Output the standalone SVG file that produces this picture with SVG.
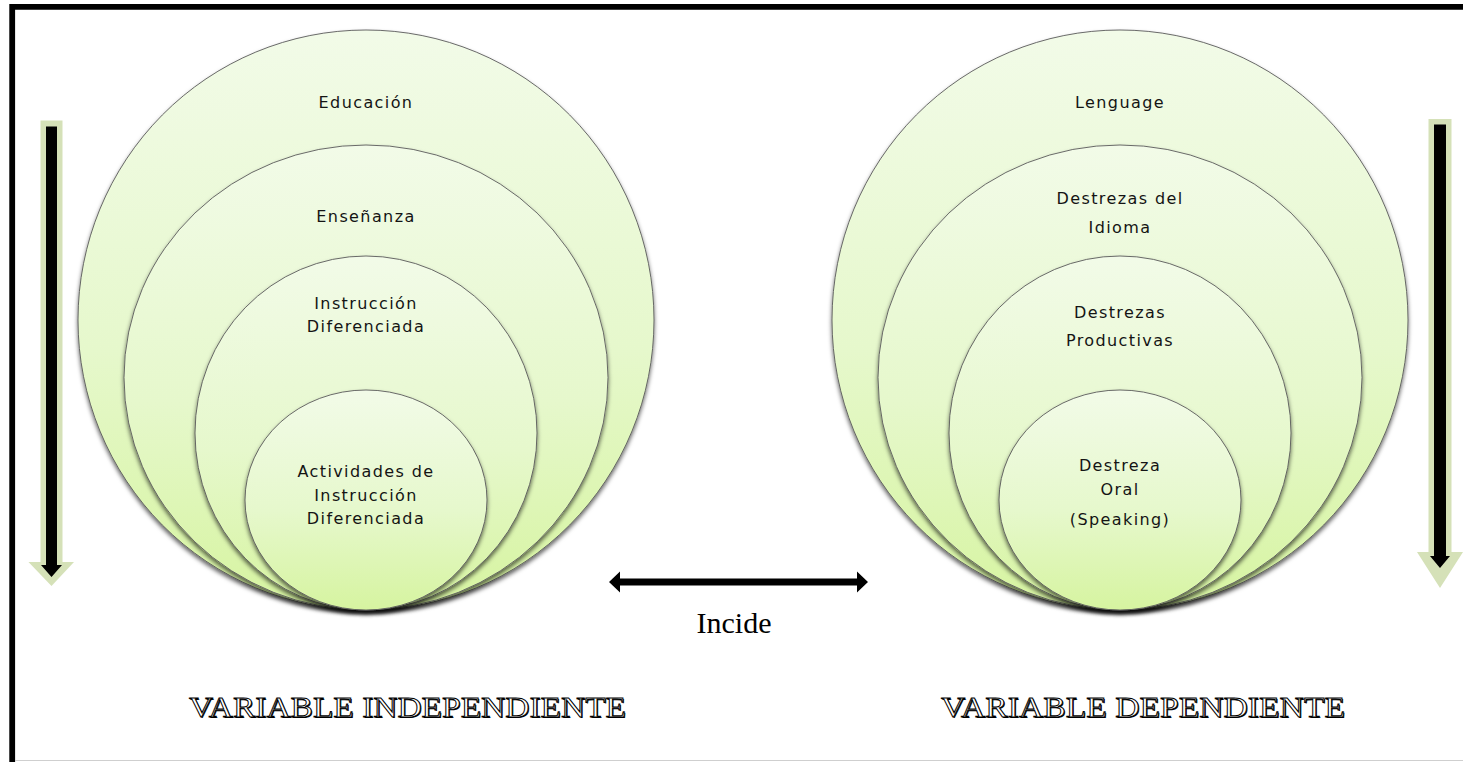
<svg xmlns="http://www.w3.org/2000/svg" width="1463" height="762" viewBox="0 0 1463 762">
<defs>
  <linearGradient id="g" x1="0" y1="0" x2="0" y2="1">
    <stop offset="0" stop-color="#f2fbe8"/>
    <stop offset="0.55" stop-color="#e6f8cc"/>
    <stop offset="1" stop-color="#d6f4a0"/>
  </linearGradient>
  <filter id="sh" x="-10%" y="-10%" width="120%" height="125%">
    <feDropShadow dx="0" dy="3" stdDeviation="2.2" flood-color="#000" flood-opacity="0.6"/>
  </filter>
</defs>
<style>
  .c { fill: url(#g); stroke: #5a5a5a; stroke-width: 0.9; filter: url(#sh); }
  .t { font-family: "DejaVu Sans", "Liberation Sans", sans-serif; font-size: 16px; letter-spacing: 1.4px; fill: #141414; text-anchor: middle; }
  .var { font-family: "Liberation Serif", "Times New Roman", serif; font-size: 30px; }
  .varS { fill: #000; }
  .varF { fill: #fff; stroke: #000; stroke-width: 0.9; }
  .arrG { fill: #d5e1b8; }
  .arrB { fill: #000; }
</style>
<rect x="0" y="0" width="1463" height="762" fill="#fff"/>
<path d="M1463,6.8 H12.2 V762" fill="none" stroke="#000" stroke-width="5.8"/>
<line x1="15" y1="760.5" x2="1463" y2="760.5" stroke="#cfcfcf" stroke-width="1.2"/>

<g id="left-outer"><ellipse class="c" cx="366" cy="320" rx="288" ry="290"/><text class="t" x="366" y="108">Educación</text></g>
<g id="left-2"><ellipse class="c" cx="366" cy="377.5" rx="242" ry="232.5"/><text class="t" x="366" y="222">Enseñanza</text></g>
<g id="left-3"><ellipse class="c" cx="366" cy="433" rx="171" ry="177"/><text class="t" x="366" y="309">Instrucción</text><text class="t" x="366" y="332">Diferenciada</text></g>
<g id="left-4"><ellipse class="c" cx="366" cy="500" rx="121" ry="110"/><text class="t" x="366" y="477">Actividades de</text><text class="t" x="366" y="500.5">Instrucción</text><text class="t" x="366" y="524">Diferenciada</text></g>

<g id="right-outer"><ellipse class="c" cx="1120" cy="320" rx="288" ry="290"/><text class="t" x="1120" y="108">Lenguage</text></g>
<g id="right-2"><ellipse class="c" cx="1120" cy="377.5" rx="242" ry="232.5"/><text class="t" x="1120" y="204">Destrezas del</text><text class="t" x="1120" y="233">Idioma</text></g>
<g id="right-3"><ellipse class="c" cx="1120" cy="433" rx="171" ry="177"/><text class="t" x="1120" y="318">Destrezas</text><text class="t" x="1120" y="346">Productivas</text></g>
<g id="right-4"><ellipse class="c" cx="1120" cy="500" rx="121" ry="110"/><text class="t" x="1120" y="471">Destreza</text><text class="t" x="1120" y="495">Oral</text><text class="t" x="1120" y="525">(Speaking)</text></g>

<g id="connectors">
  <g id="arrow-left">
    <polygon class="arrG" points="40.5,120.5 62.5,120.5 62.5,562 74,562 51.5,586 28.5,562 40.5,562"/>
    <polygon class="arrB" points="46,126.5 57,126.5 57,565 62,565 51.5,577 41,565 46,565"/>
  </g>
  <g id="arrow-right">
    <polygon class="arrG" points="1428.5,119 1451.5,119 1451.5,552 1463,552 1440,588 1417,552 1428.5,552"/>
    <polygon class="arrB" points="1434,124.5 1446,124.5 1446,556 1450,556 1440,568 1430,556 1434,556"/>
  </g>
  <polygon id="incide-arrow" fill="#000" points="609,582 620,571.5 620,578.5 857,578.5 857,571.5 868,582 857,592.5 857,585.5 620,585.5 620,592.5"/>
</g>

<text x="734" y="632.5" font-family="Liberation Serif, Times New Roman, serif" font-size="30" fill="#000" text-anchor="middle">Incide</text>

<g id="label-independiente">
  <text class="var varS" x="190" y="718" textLength="437" lengthAdjust="spacingAndGlyphs">VARIABLE INDEPENDIENTE</text>
  <text class="var varF" x="189" y="717" textLength="437" lengthAdjust="spacingAndGlyphs">VARIABLE INDEPENDIENTE</text>
</g>
<g id="label-dependiente">
  <text class="var varS" x="942" y="718" textLength="404" lengthAdjust="spacingAndGlyphs">VARIABLE DEPENDIENTE</text>
  <text class="var varF" x="941" y="717" textLength="404" lengthAdjust="spacingAndGlyphs">VARIABLE DEPENDIENTE</text>
</g>
</svg>
